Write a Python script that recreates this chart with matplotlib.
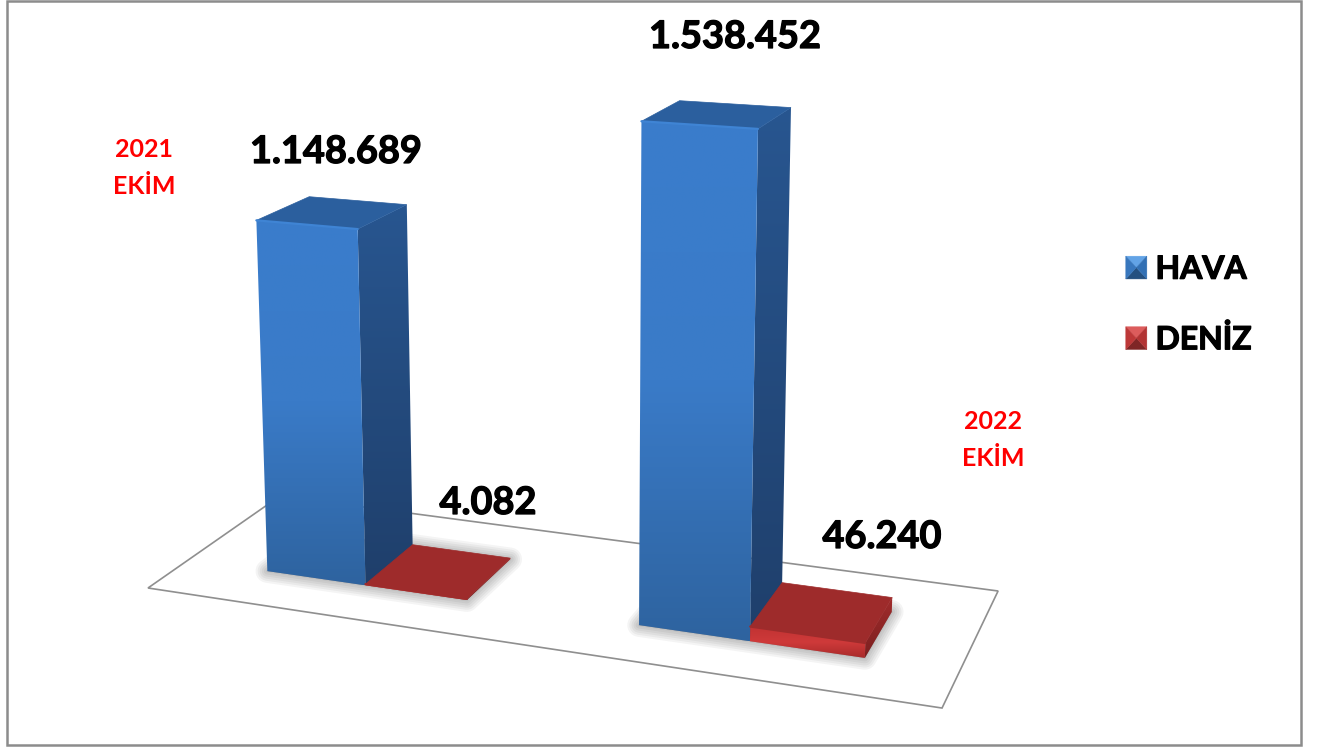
"""
Hava / Deniz yolcu grafigi - 2021 ve 2022 Ekim
"""
import numpy as np
import matplotlib
matplotlib.use("Agg")
import matplotlib.pyplot as plt
import matplotlib.patheffects as pe
from matplotlib.colors import LinearSegmentedColormap
from matplotlib.legend_handler import HandlerBase
from matplotlib.patches import Patch, Polygon, Rectangle

# ==========================
# dados
# ==========================
periods = ["2021\nEKİM", "2022\nEKİM"]
series_names = ["HAVA", "DENİZ"]
hava = [1148689, 1538452]
deniz = [4082, 46240]

plt.rcParams["font.family"] = ["Lato", "DejaVu Sans"]

# ==========================
# camera: floor square (u, v) plus value going up, to image pixels
# ==========================
CAMERA = np.array([
    [680.9, 164.3, 590 * -2.914e-8, 148.0],
    [35.0, -34.9, 10900 * -2.914e-8, 588.0],
    [-0.1201, 0.1152, -2.914e-8, 1.0],
])

BAR_W = 0.138
V_FRONT, V_BACK = 0.285, 0.69
GROUP_CENTER = [0.252, 0.752]


def project(u, v, value=0):
    x, y, w = CAMERA @ np.array([u, v, value, 1.0])
    return x / w, y / w


def gradient_face(ax, pts, colors, z):
    # polygon filled with a vertical gradient
    poly = Polygon(pts, closed=True, facecolor="none", edgecolor="none", zorder=z)
    ax.add_patch(poly)
    xs, ys = zip(*pts)
    cmap = LinearSegmentedColormap.from_list("face", colors)
    grad = np.linspace(0, 1, 256).reshape(-1, 1)
    im = ax.imshow(grad, cmap=cmap, aspect="auto", zorder=z, interpolation="bilinear",
                   extent=(min(xs), max(xs), max(ys), min(ys)))
    im.set_clip_path(poly)


def shadow(ax, u0, u1, z):
    pts = [project(u0, V_FRONT), project(u1, V_FRONT), project(u1, V_BACK), project(u0, V_BACK)]
    for lw in range(2, 20, 3):
        ax.add_patch(Polygon(pts, closed=True, facecolor="black", edgecolor="black",
                             alpha=0.045, lw=lw, joinstyle="round", zorder=z))


def draw_bar(ax, u0, u1, value, front, side, top, edge, z):
    fl = project(u0, V_FRONT, value)
    fr = project(u1, V_FRONT, value)
    br = project(u1, V_BACK, value)
    bl = project(u0, V_BACK, value)
    fl0 = project(u0, V_FRONT)
    fr0 = project(u1, V_FRONT)
    br0 = project(u1, V_BACK)
    gradient_face(ax, [fr, br, br0, fr0], side, z)
    ax.add_patch(Polygon([fl, fr, br, bl], closed=True, facecolor=top, edgecolor=top, lw=0.5, zorder=z + 0.1))
    gradient_face(ax, [fl, fr, fr0, fl0], front, z + 0.2)
    # bevel highlight along the top front edge
    ax.plot([fl[0], fr[0]], [fl[1], fr[1]], color=edge, lw=1.6, zorder=z + 0.3, solid_capstyle="round")


class PyramidHandler(HandlerBase):
    # legend swatch with four bevelled triangles
    def __init__(self, shades):
        super().__init__()
        self.shades = shades

    def create_artists(self, legend, orig_handle, xdescent, ydescent, width, height, fontsize, trans):
        x0, y0 = -xdescent, -ydescent
        x1, y1 = x0 + width, y0 + height
        cx, cy = (x0 + x1) / 2, (y0 + y1) / 2
        corners = {"top": [(x0, y1), (x1, y1)], "bottom": [(x0, y0), (x1, y0)],
                   "left": [(x0, y0), (x0, y1)], "right": [(x1, y0), (x1, y1)]}
        artists = []
        for side, pts in corners.items():
            artists.append(Polygon(pts + [(cx, cy)], closed=True, facecolor=self.shades[side],
                                   edgecolor=self.shades[side], lw=0.3, transform=trans))
        return artists


# ==========================
# plot
# ==========================
fig = plt.figure(figsize=(13.21, 7.49), dpi=100)
ax = fig.add_axes([0, 0, 1, 1])

# floor
floor = [project(0, 0), project(1, 0), project(1, 1), project(0, 1)]
ax.add_patch(Polygon(floor, closed=True, facecolor="white", edgecolor="#8f8f8f", lw=1.2, zorder=1))

BLUE_FRONT = ["#3a7dcc", "#3a7bc8", "#2e639f"]
BLUE_SIDE = ["#285690", "#1f3f6b"]
RED_FRONT = ["#c03232", "#cf3a3a", "#a82a2a"]
RED_SIDE = ["#a02c2c", "#7c2020"]

for i, center in enumerate(GROUP_CENTER):
    z = 3 + i * 2
    shadow(ax, center - BAR_W, center + BAR_W, z - 0.5)
    draw_bar(ax, center - BAR_W, center, hava[i], BLUE_FRONT, BLUE_SIDE, "#2b5f9e", "#3f84d4", z)
    draw_bar(ax, center, center + BAR_W, deniz[i], RED_FRONT, RED_SIDE, "#9e2b2b", "#9e2b2b", z + 0.5)

# labels
stroke = [pe.withStroke(linewidth=0.9, foreground="black")]
value_pos = [(336, 152), (488, 503), (735, 37), (882, 537)]
values = [hava[0], deniz[0], hava[1], deniz[1]]
for (x, y), val in zip(value_pos, values):
    ax.text(x, y, f"{val:,}".replace(",", "."), fontsize=27.3, fontweight="bold", color="black",
            ha="center", va="center", zorder=10, path_effects=stroke)

period_pos = [(144, 168), (993, 440)]
for (x, y), label in zip(period_pos, periods):
    ax.text(x, y, label, fontsize=18, fontweight="bold", color="#ff0000",
            ha="center", va="center", linespacing=1.7, zorder=10)

# legend
handles = [Patch(label=series_names[0]), Patch(label=series_names[1])]
shades_blue = {"top": "#62a3e6", "left": "#3877bd", "right": "#3270b4", "bottom": "#24507f"}
shades_red = {"top": "#dc5c5c", "left": "#bd3838", "right": "#b23434", "bottom": "#7f2626"}
leg = ax.legend(handles=handles, loc="center left", bbox_to_anchor=(1113 / 1321, 1 - 304.5 / 749),
                frameon=False, prop={"size": 23, "weight": "bold"}, labelspacing=1.27,
                handlelength=0.66, handleheight=0.72, handletextpad=0.27, borderaxespad=0,
                handler_map={handles[0]: PyramidHandler(shades_blue), handles[1]: PyramidHandler(shades_red)})
leg.set_zorder(10)
for t in leg.get_texts():
    t.set_path_effects(stroke)

# outer border
ax.add_patch(Rectangle((7, 1), 1294, 744, facecolor="none", edgecolor="#8c8c8c", lw=1.8, zorder=11))

ax.set_xlim(0, 1321)
ax.set_ylim(749, 0)
ax.axis("off")

plt.savefig("out.png", dpi=100, facecolor="white")
plt.close()
